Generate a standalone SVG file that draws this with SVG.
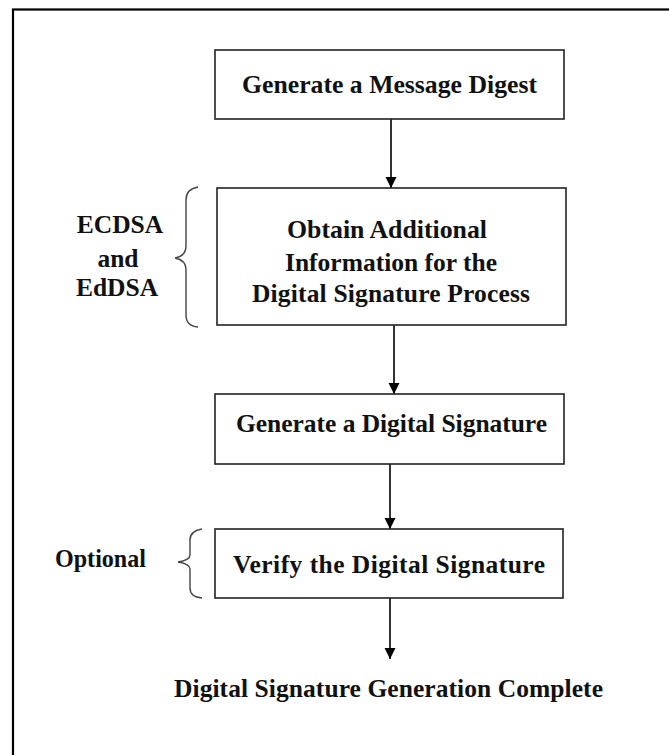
<svg xmlns="http://www.w3.org/2000/svg" width="669" height="755" viewBox="0 0 669 755">
<defs>
<marker id="ah" markerWidth="11" markerHeight="12" refX="10" refY="5" orient="auto" markerUnits="userSpaceOnUse" viewBox="0 0 10 10">
<path d="M0,0 L10,5 L0,10 Z" fill="#000"/>
</marker>
<style>
.box{fill:#fff;stroke:#222;stroke-width:1.6}
.t{font-family:"Liberation Serif","Times New Roman",serif;font-weight:bold;font-size:25.5px;fill:#111}
.c{text-anchor:middle}
.con{stroke:#000;stroke-width:1.6;fill:none}
.brace{stroke:#444;stroke-width:1.4;fill:none}
</style>
</defs>
<rect width="669" height="755" fill="#fff"/>
<rect x="13" y="9.5" width="700" height="800" fill="none" stroke="#000" stroke-width="2.2"/>

<g id="connectors">
<line class="con" x1="391" y1="119" x2="391" y2="188" marker-end="url(#ah)"/>
<line class="con" x1="394" y1="325" x2="394" y2="394" marker-end="url(#ah)"/>
<line class="con" x1="390" y1="464" x2="390" y2="529" marker-end="url(#ah)"/>
<line class="con" x1="390" y1="598" x2="390" y2="659" marker-end="url(#ah)"/>
</g>

<g id="n1">
<rect class="box" x="215" y="50" width="349" height="69"/>
<text class="t" x="242" y="93" textLength="295" lengthAdjust="spacingAndGlyphs">Generate a Message Digest</text>
</g>

<g id="n2">
<rect class="box" x="217" y="188" width="349" height="137"/>
<text class="t" x="287" y="238" textLength="200" lengthAdjust="spacingAndGlyphs">Obtain Additional</text>
<text class="t" x="285" y="271" textLength="212" lengthAdjust="spacing">Information  for the</text>
<text class="t" x="252" y="302" textLength="278" lengthAdjust="spacing">Digital Signature  Process</text>
</g>

<g id="n3">
<rect class="box" x="215" y="394" width="349" height="70"/>
<text class="t" x="236" y="432" textLength="311" lengthAdjust="spacing">Generate a Digital Signature</text>
</g>

<g id="n4">
<rect class="box" x="215" y="529" width="348" height="69"/>
<text class="t" x="233" y="573" textLength="312" lengthAdjust="spacing">Verify the Digital Signature</text>
</g>

<g id="end">
<text class="t" x="174" y="697" textLength="429" lengthAdjust="spacing">Digital Signature  Generation  Complete</text>
</g>

<g id="ecdsa-note">
<path class="brace" d="M198,187 Q186,189 186,200 L186,246 Q186,256 175,258 Q186,260 186,270 L186,315 Q186,326 198,327"/>
<text class="t c" x="120" y="233">ECDSA</text>
<text class="t c" x="118" y="267">and</text>
<text class="t c" x="117" y="296">EdDSA</text>
</g>

<g id="optional-note">
<path class="brace" d="M202,529 Q190,531 190,540 L190,555 Q190,560 178,562 Q190,564 190,569 L190,588 Q190,597 202,598"/>
<text class="t" x="55" y="567" textLength="91" lengthAdjust="spacingAndGlyphs">Optional</text>
</g>
</svg>
